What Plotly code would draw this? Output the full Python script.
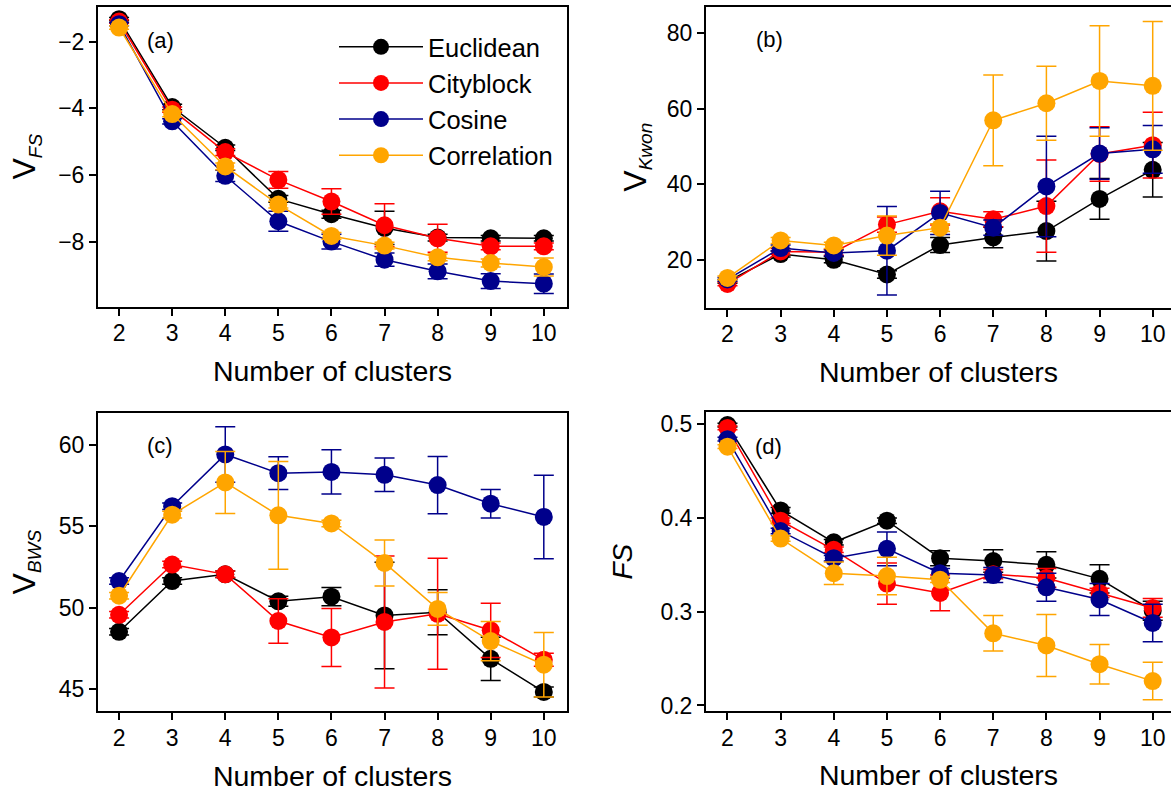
import plotly.graph_objects as go

clusters = [2, 3, 4, 5, 6, 7, 8, 9, 10]
methods = ["Euclidean", "Cityblock", "Cosine", "Correlation"]
colors = ["#000000", "#ff0000", "#00008b", "#ffa500"]

# (a) V_FS
vfs = {
    "Euclidean":   [-1.33, -3.96, -5.18, -6.71, -7.17, -7.58, -7.87, -7.89, -7.89],
    "Cityblock":   [-1.40, -4.04, -5.31, -6.14, -6.79, -7.50, -7.89, -8.13, -8.13],
    "Cosine":      [-1.48, -4.39, -6.02, -7.38, -7.99, -8.53, -8.88, -9.17, -9.25],
    "Correlation": [-1.58, -4.17, -5.74, -6.88, -7.82, -8.11, -8.46, -8.63, -8.75],
}
vfs_err = {
    "Euclidean":   [0.05, 0.08, 0.08, 0.10, 0.12, 0.50, 0.10, 0.08, 0.08],
    "Cityblock":   [0.05, 0.08, 0.10, 0.25, 0.38, 0.64, 0.42, 0.10, 0.10],
    "Cosine":      [0.05, 0.08, 0.17, 0.30, 0.22, 0.20, 0.22, 0.22, 0.29],
    "Correlation": [0.05, 0.08, 0.10, 0.10, 0.10, 0.10, 0.10, 0.12, 0.27],
}

# (b) V_Kwon
vkwon = {
    "Euclidean":   [14.3, 21.5, 20.0, 16.1, 23.9, 25.9, 27.6, 36.1, 43.8],
    "Cityblock":   [13.6, 22.2, 22.0, 29.3, 32.8, 30.7, 34.2, 48.0, 50.3],
    "Cosine":      [14.8, 23.1, 21.8, 22.4, 32.4, 28.5, 39.4, 48.1, 49.2],
    "Correlation": [15.2, 25.1, 23.8, 26.4, 28.5, 56.9, 61.4, 67.3, 66.0],
}
vkwon_err = {
    "Euclidean":   [0.5, 0.8, 0.8, 1.0, 2.0, 2.7, 7.9, 5.4, 7.2],
    "Cityblock":   [0.5, 0.8, 0.8, 2.0, 3.6, 2.0, 12.2, 7.2, 8.7],
    "Cosine":      [0.5, 0.8, 0.8, 11.7, 5.7, 2.0, 13.3, 6.8, 6.3],
    "Correlation": [0.5, 0.8, 0.8, 5.2, 1.0, 12.0, 9.8, 14.6, 17.0],
}

# (c) V_BWS
vbws = {
    "Euclidean":   [48.53, 51.64, 52.05, 50.40, 50.68, 49.53, 49.73, 46.87, 44.84],
    "Cityblock":   [49.57, 52.65, 52.05, 49.19, 48.18, 49.13, 49.63, 48.62, 46.81],
    "Cosine":      [51.64, 56.23, 59.40, 58.25, 58.33, 58.15, 57.52, 56.38, 55.57],
    "Correlation": [50.74, 55.71, 57.68, 55.67, 55.17, 52.75, 49.93, 47.96, 46.51],
}
vbws_err = {
    "Euclidean":   [0.2, 0.2, 0.2, 0.3, 0.56, 3.26, 1.38, 1.33, 0.30],
    "Cityblock":   [0.2, 0.2, 0.2, 1.37, 1.78, 4.05, 3.40, 1.66, 0.40],
    "Cosine":      [0.2, 0.2, 1.70, 1.00, 1.35, 1.03, 1.76, 0.87, 2.56],
    "Correlation": [0.2, 0.2, 1.90, 3.30, 0.2, 1.41, 1.00, 1.20, 1.97],
}

# (d) FS
fs = {
    "Euclidean":   [0.499, 0.408, 0.374, 0.397, 0.357, 0.354, 0.350, 0.335, 0.301],
    "Cityblock":   [0.496, 0.397, 0.366, 0.330, 0.320, 0.340, 0.336, 0.320, 0.304],
    "Cosine":      [0.484, 0.386, 0.357, 0.367, 0.341, 0.339, 0.326, 0.313, 0.288],
    "Correlation": [0.476, 0.378, 0.341, 0.338, 0.334, 0.277, 0.264, 0.244, 0.226],
}
fs_err = {
    "Euclidean":   [0.002, 0.003, 0.003, 0.003, 0.008, 0.012, 0.014, 0.015, 0.010],
    "Cityblock":   [0.002, 0.003, 0.003, 0.022, 0.019, 0.005, 0.010, 0.005, 0.010],
    "Cosine":      [0.002, 0.003, 0.003, 0.018, 0.005, 0.008, 0.015, 0.017, 0.020],
    "Correlation": [0.002, 0.003, 0.012, 0.020, 0.003, 0.019, 0.033, 0.021, 0.020],
}

panels = [
    (vfs, vfs_err, "x", "y"),
    (vkwon, vkwon_err, "x2", "y2"),
    (vbws, vbws_err, "x3", "y3"),
    (fs, fs_err, "x4", "y4"),
]

W, H = 1171, 799
FONT = "Liberation Sans, Arial, sans-serif"

fig = go.Figure()
for p, (vals, errs, xa, ya) in enumerate(panels):
    for m, c in zip(methods, colors):
        fig.add_trace(go.Scatter(
            x=clusters, y=vals[m], xaxis=xa, yaxis=ya,
            mode="lines+markers", name=m, showlegend=(p == 0),
            line=dict(color=c, width=1.5),
            marker=dict(color=c, size=18, line=dict(width=0)),
            error_y=dict(type="data", array=errs[m], visible=True,
                         color=c, thickness=1.5, width=10),
        ))

def px_dom_x(a, b):
    return [max(0.0, a / W), min(1.0, b / W)]

def px_dom_y(top, bottom):
    return [max(0.0, 1 - bottom / H), min(1.0, 1 - top / H)]

axis_common = dict(
    showline=True, linecolor="black", linewidth=2,
    ticks="outside", ticklen=7, tickwidth=1.5, tickcolor="black",
    showgrid=False, zeroline=False, mirror=True,
    tickfont=dict(family=FONT, size=23, color="black"),
)
xtitle = dict(text="Number of clusters", font=dict(family=FONT, size=28.5, color="black"), standoff=16)

layout = dict(
    width=W, height=H,
    margin=dict(l=0, r=0, t=0, b=0),
    paper_bgcolor="white", plot_bgcolor="white",
    font=dict(family=FONT, color="black"),
)

xa_dom = px_dom_x(98, 567)
xb_dom = px_dom_x(706, 1171)
top_dom = px_dom_y(6, 309)
top_dom_b = px_dom_y(6, 310)
bot_dom = px_dom_y(416.5, 718.5)
bot_dom_d = px_dom_y(416, 718)

for name, dom, rng, anchor in [
    ("xaxis", xa_dom, [1.603, 10.437], "y"),
    ("xaxis2", xb_dom, [1.596, 10.344], "y2"),
    ("xaxis3", xa_dom, [1.603, 10.437], "y3"),
    ("xaxis4", xb_dom, [1.596, 10.344], "y4"),
]:
    layout[name] = dict(axis_common, domain=dom, range=rng, anchor=anchor,
                        tickmode="array", tickvals=clusters,
                        ticklabelstandoff=-2, title=xtitle)

ytitle_font = dict(family=FONT, size=32, color="black")
SUB = "<sub><i><span style='font-size:19px'>%s</span></i></sub>"
layout["yaxis"] = dict(axis_common, domain=top_dom, range=[-9.933, -0.964], anchor="x",
                       tickvals=[-8, -6, -4, -2],
                       title=dict(text="V" + SUB % "FS", font=ytitle_font, standoff=13))
layout["yaxis2"] = dict(axis_common, domain=top_dom_b, range=[7.37, 86.88], anchor="x2",
                        tickvals=[20, 40, 60, 80], mirror=False,
                        title=dict(text="V" + SUB % "Kwon", font=ytitle_font, standoff=11))
layout["yaxis3"] = dict(axis_common, domain=bot_dom, range=[43.65, 61.95], anchor="x3",
                        tickvals=[45, 50, 55, 60],
                        title=dict(text="V" + SUB % "BWS", font=ytitle_font, standoff=14))
layout["yaxis4"] = dict(axis_common, domain=bot_dom_d, range=[0.1942, 0.5126], anchor="x4",
                        tickvals=[0.2, 0.3, 0.4, 0.5], tickformat=".1f", mirror=False,
                        title=dict(text="<i>FS</i>", font=dict(family=FONT, size=28, color="black"),
                                   standoff=20))

layout["legend"] = dict(
    x=334 / W, y=1 - 23 / H, xanchor="left", yanchor="top",
    font=dict(family=FONT, size=25.5, color="black"),
    bgcolor="rgba(0,0,0,0)", borderwidth=0,
    itemwidth=84, tracegroupgap=0,
)

labels = [("(a)", 160, 40), ("(b)", 769, 39), ("(c)", 160, 450), ("(d)", 768, 451)]
layout["annotations"] = [
    dict(text=t, x=xp / W, y=1 - yp / H, xref="paper", yref="paper",
         showarrow=False, xanchor="center", yanchor="middle",
         font=dict(family=FONT, size=22, color="black"))
    for t, xp, yp in labels
]

fig.update_layout(**layout)
fig.write_html("out.html",
               config={"displayModeBar": False},
               post_script="document.body.style.margin='0';document.body.style.overflow='hidden';")
